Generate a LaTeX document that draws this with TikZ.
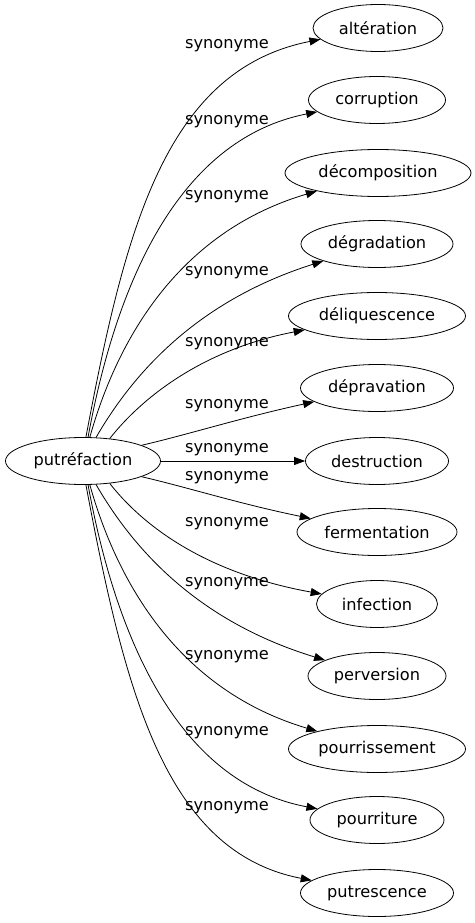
\documentclass[tikz,border=0pt]{standalone}
\usepackage{fontspec}
\setmainfont{DejaVu Sans}
\usetikzlibrary{arrows.meta,shapes.geometric}

\begin{document}
\begin{tikzpicture}[x=1pt, y=-1pt, line width=0.8pt,
  word/.style={ellipse, draw, inner sep=0pt, minimum height=47pt,
               font=\fontsize{16.2}{19}\selectfont},
  syn/.style={-{Triangle[length=11pt,width=8pt]}},
  lbl/.style={font=\fontsize{16.2}{19}\selectfont}]

\useasboundingbox (0,0) rectangle (474,923);

\node[word, minimum width=155pt](putrefaction) at (83,461) {putréfaction};

\node[word, minimum width=130pt](alteration) at (378,28) {altération};
\node[word, minimum width=137pt](corruption) at (377,100) {corruption};
\node[word, minimum width=186pt](decomposition) at (378,173) {décomposition};
\node[word, minimum width=152pt](degradation) at (377,244) {dégradation};
\node[word, minimum width=177pt](deliquescence) at (377,316) {déliquescence};
\node[word, minimum width=153pt](depravation) at (377,388) {dépravation};
\node[word, minimum width=143pt](destruction) at (377,461) {destruction};
\node[word, minimum width=160pt](fermentation) at (377,532) {fermentation};
\node[word, minimum width=121pt](infection) at (377,604) {infection};
\node[word, minimum width=138pt](perversion) at (377,676) {perversion};
\node[word, minimum width=177pt](pourrissement) at (377,749) {pourrissement};
\node[word, minimum width=134pt](pourriture) at (377,820) {pourriture};
\node[word, minimum width=153pt](putrescence) at (377,893) {putrescence};

% edges upwards
\draw[syn] (putrefaction.83) .. controls (125,230) and (165,70) .. (alteration)
  node[lbl] at (227,46) {synonyme};
\draw[syn] (putrefaction.78) .. controls (115,290) and (175,140) .. (corruption)
  node[lbl] at (227,122) {synonyme};
\draw[syn] (putrefaction.74) .. controls (120,330) and (185,230) .. (decomposition)
  node[lbl] at (227,197) {synonyme};
\draw[syn] (putrefaction.61) .. controls (135,370) and (200,300) .. (degradation)
  node[lbl] at (227,273) {synonyme};
\draw[syn] (putrefaction.40) .. controls (140,400) and (200,350) .. (deliquescence)
  node[lbl] at (227,344) {synonyme};
\draw[syn] (putrefaction.15) .. controls (190,434) and (240,418) .. (depravation)
  node[lbl] at (227,406) {synonyme};

\draw[syn] (putrefaction) -- (destruction) node[lbl] at (227,450) {synonyme};

% edges downwards
\draw[syn] (putrefaction.-15) .. controls (190,488) and (240,504) .. (fermentation)
  node[lbl] at (227,478) {synonyme};
\draw[syn] (putrefaction.-40) .. controls (140,522) and (200,572) .. (infection)
  node[lbl] at (227,524) {synonyme};
\draw[syn] (putrefaction.-61) .. controls (135,552) and (200,622) .. (perversion)
  node[lbl] at (227,584) {synonyme};
\draw[syn] (putrefaction.-74) .. controls (120,592) and (185,692) .. (pourrissement)
  node[lbl] at (227,657) {synonyme};
\draw[syn] (putrefaction.-78) .. controls (115,632) and (175,782) .. (pourriture)
  node[lbl] at (227,733) {synonyme};
\draw[syn] (putrefaction.-83) .. controls (125,692) and (165,852) .. (putrescence)
  node[lbl] at (227,808) {synonyme};

\end{tikzpicture}
\end{document}
